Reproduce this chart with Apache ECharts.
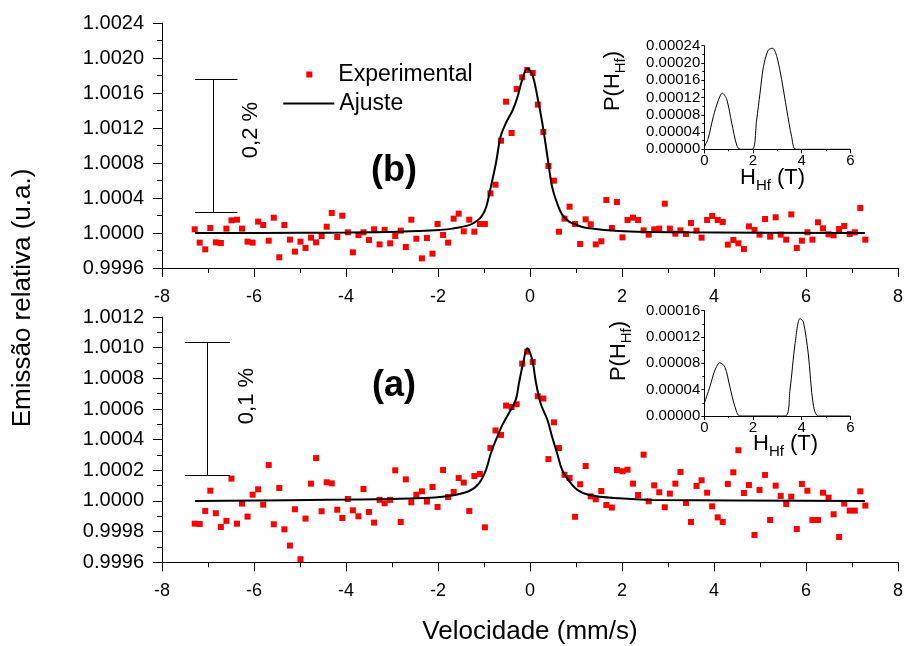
<!DOCTYPE html>
<html>
<head>
<meta charset="utf-8">
<script src="https://cdn.jsdelivr.net/npm/echarts/dist/echarts.min.js"></script>
<style>
  html, body { margin: 0; padding: 0; background: #ffffff; }
  #chart { width: 906px; height: 646px; }
</style>
</head>
<body>
<div id="chart"></div>
<script>
// Velocity channels (mm/s), shared by both spectra
const velocity = [
  -7.29, -7.18, -7.06, -6.95, -6.83, -6.72, -6.60, -6.49, -6.37, -6.26,
  -6.14, -6.03, -5.91, -5.80, -5.68, -5.57, -5.45, -5.34, -5.22, -5.11,
  -4.99, -4.88, -4.76, -4.65, -4.53, -4.42, -4.31, -4.19, -4.08, -3.96,
  -3.85, -3.73, -3.62, -3.50, -3.39, -3.27, -3.16, -3.04, -2.93, -2.81,
  -2.70, -2.58, -2.47, -2.35, -2.24, -2.12, -2.01, -1.89, -1.78, -1.66,
  -1.55, -1.44, -1.32, -1.21, -1.09, -0.98, -0.86, -0.75, -0.63, -0.52,
  -0.40, -0.29, -0.17, -0.06, 0.06, 0.17, 0.29, 0.40, 0.52, 0.63,
  0.75, 0.86, 0.98, 1.09, 1.21, 1.32, 1.43, 1.55, 1.66, 1.78,
  1.89, 2.01, 2.12, 2.24, 2.35, 2.47, 2.58, 2.70, 2.81, 2.93,
  3.04, 3.16, 3.27, 3.39, 3.50, 3.62, 3.73, 3.85, 3.96, 4.08,
  4.19, 4.30, 4.42, 4.53, 4.65, 4.76, 4.88, 4.99, 5.11, 5.22,
  5.34, 5.45, 5.57, 5.68, 5.80, 5.91, 6.03, 6.14, 6.26, 6.37,
  6.49, 6.60, 6.72, 6.83, 6.95, 7.06, 7.18, 7.29
];

// Spectrum (b): measured relative emission
const emissionB = [
  1.000042, 0.999890, 0.999813, 1.000057, 0.999893, 0.999886, 1.000050, 1.000145, 1.000152, 1.000050,
  0.999901, 0.999890, 1.000130, 1.000091, 0.999912, 1.000175, 0.999722, 1.000091, 0.999924, 0.999787,
  0.999901, 0.999829, 0.999947, 0.999893, 0.999966, 1.000072, 1.000229, 0.999954, 1.000198, 1.000008,
  0.999779, 0.999977, 1.000008, 0.999920, 1.000042, 0.999870, 1.000034, 0.999882, 0.999966, 1.000027,
  0.999840, 1.000152, 0.999935, 0.999710, 0.999943, 0.999764, 1.000103, 0.999977, 0.999890, 1.000164,
  1.000221, 1.000019, 1.000152, 1.000015, 1.000103, 1.000103, 1.000453, 1.000552, 1.001055, 1.001501,
  1.001143, 1.001646, 1.001779, 1.001863, 1.001829, 1.001467, 1.001154, 1.000766, 1.000598, 1.000015,
  1.000164, 1.000301, 1.000103, 0.999874, 1.000156, 1.000099, 0.999870, 0.999905, 1.000377, 1.000057,
  1.000354, 0.999950, 1.000149, 1.000175, 1.000149, 1.000030, 0.999981, 1.000042, 1.000050, 1.000335,
  1.000050, 0.999992, 1.000030, 0.999989, 1.000114, 1.000027, 0.999947, 1.000149, 1.000194, 1.000149,
  1.000126, 0.999867, 0.999920, 0.999882, 0.999817, 1.000076, 1.000034, 0.999981, 1.000160, 0.999958,
  1.000179, 0.999981, 0.999924, 1.000213, 0.999829, 0.999912, 1.000008, 0.999924, 1.000122, 1.000053,
  0.999985, 0.999973, 1.000046, 1.000080, 0.999989, 1.000008, 1.000286, 0.999924
];

// Spectrum (a): measured relative emission
const emissionA = [
  0.999852, 0.999850, 0.999935, 1.000067, 0.999920, 0.999830, 0.999870, 1.000146, 0.999852, 0.999983,
  0.999898, 1.000041, 1.000076, 0.999976, 1.000235, 0.999848, 1.000085, 0.999815, 0.999709, 0.999946,
  0.999620, 0.999885, 1.000113, 1.000280, 0.999933, 1.000122, 1.000115, 0.999943, 0.999889, 1.000013,
  0.999939, 0.999900, 1.000078, 0.999928, 0.999859, 1.000007, 0.999985, 1.000007, 1.000200, 0.999863,
  1.000141, 0.999991, 1.000041, 1.000063, 0.999996, 1.000091, 0.999961, 1.000202, 1.000026, 1.000059,
  1.000150, 1.000120, 0.999935, 1.000163, 1.000176, 0.999828, 1.000346, 1.000460, 1.000431, 1.000622,
  1.000613, 1.000631, 1.000896, 1.000974, 1.000907, 1.000683, 1.000668, 1.000273, 1.000513, 1.000345,
  1.000171, 1.000150, 0.999897, 1.000109, 1.000228, 1.000030, 1.000011, 1.000065, 0.999974, 0.999957,
  1.000202, 1.000194, 1.000204, 1.000113, 1.000039, 1.000302, 0.999998, 1.000102, 1.000057, 0.999959,
  1.000048, 1.000113, 1.000189, 0.999987, 0.999863, 1.000098, 1.000135, 1.000054, 0.999965, 0.999893,
  0.999863, 1.000111, 1.000187, 1.000331, 1.000052, 1.000104, 0.999778, 1.000072, 1.000170, 0.999876,
  1.000100, 1.000033, 0.999980, 1.000028, 0.999817, 1.000111, 1.000067, 0.999876, 0.999876, 1.000054,
  1.000022, 0.999913, 0.999765, 0.999983, 0.999937, 0.999937, 1.000063, 0.999970
];

// Fitted curves ("Ajuste")
const fitBVelocity = [-7.28, -5.01, -3.92, -2.84, -2.41, -1.97, -1.69, -1.32, -1.15, -1.04, -0.95, -0.85,
  -0.74, -0.64, -0.53, -0.38, -0.28, -0.17, -0.06, 0.05, 0.16, 0.27, 0.38, 0.48, 0.59, 0.70, 0.85, 1.00,
  1.21, 1.93, 3.38, 7.28];
const fitBValue = [1.000000, 1.000002, 1.000005, 1.000015, 1.000022, 1.000035, 1.000050, 1.000090,
  1.000140, 1.000200, 1.000300, 1.000530, 1.000800, 1.001100, 1.001250, 1.001400, 1.001540, 1.001750,
  1.001880, 1.001810, 1.001560, 1.001250, 1.000870, 1.000530, 1.000340, 1.000210, 1.000130, 1.000095,
  1.000060, 1.000023, 1.000008, 1.000000];

const fitAVelocity = [-7.28, -3.92, -2.48, -1.76, -1.32, -1.11, -0.96, -0.85, -0.74, -0.60, -0.46, -0.31,
  -0.24, -0.15, -0.06, 0.05, 0.12, 0.23, 0.38, 0.48, 0.59, 0.70, 0.85, 1.03, 1.28, 1.93, 2.65, 7.28];
const fitAValue = [1.000000, 1.000009, 1.000017, 1.000033, 1.000065, 1.000115, 1.000200, 1.000311,
  1.000398, 1.000496, 1.000572, 1.000659, 1.000768, 1.000898, 1.000996, 1.000920, 1.000789, 1.000637,
  1.000528, 1.000419, 1.000311, 1.000202, 1.000130, 1.000072, 1.000039, 1.000017, 1.000007, 1.000000];

// Hyperfine field distributions P(H_Hf)
const hfB = [0, 0.16, 0.37, 0.58, 0.74, 0.92, 1.13, 1.33, 1.47, 1.97, 2.15, 2.29, 2.43, 2.63, 2.81, 2.98,
  3.18, 3.39, 3.59, 3.77, 6.0];
const probB = [0.000005, 0.0000255, 0.0000755, 0.000114, 0.000130, 0.000116, 0.0000602, 0.000010, 0, 0,
  0.0000679, 0.000130, 0.000191, 0.000230, 0.000234, 0.000215, 0.000161, 0.000091, 0.0000292, 0, 0];

const hfA = [0, 0.23, 0.44, 0.64, 0.85, 1.05, 1.26, 1.47, 3.32, 3.52, 3.73, 3.93, 4.07, 4.27, 4.48, 4.69, 6.0];
const probA = [0.0000193, 0.0000445, 0.0000699, 0.000081, 0.000074, 0.0000445, 0.0000141, 0, 0,
  0.0000395, 0.000110, 0.000148, 0.000143, 0.0000953, 0.0000167, 0, 0];

// Scale bars: [velocity of the bar, low end, high end, cap start, cap end]
const scaleBarB = [-6.89, 1.000237, 1.001760, -7.28, -6.36];
const scaleBarA = [-7.02, 1.000165, 1.001035, -7.50, -6.52];

const FONT = '"Liberation Sans", Arial, Helvetica, sans-serif';
const BLACK = '#000000';
const RED = '#ff0000';

const zip = (xs, ys) => xs.map((x, i) => [x, ys[i]]);

function scaleBar(b) {
  return {
    silent: true,
    symbol: 'none',
    label: { show: false },
    lineStyle: { type: 'solid', color: BLACK, width: 1, opacity: 1 },
    emphasis: { disabled: true },
    data: [
      [{ coord: [b[0], b[1]] }, { coord: [b[0], b[2]] }],
      [{ coord: [b[3], b[2]] }, { coord: [b[4], b[2]] }],
      [{ coord: [b[3], b[1]] }, { coord: [b[4], b[1]] }]
    ]
  };
}

function mainX(gridIndex) {
  return {
    type: 'value', gridIndex, min: -8, max: 8, interval: 2,
    axisLine: { show: true, onZero: false, lineStyle: { color: BLACK, width: 1 } },
    axisTick: { show: true, length: 9, lineStyle: { color: BLACK, width: 1 } },
    minorTick: { show: true, splitNumber: 2, length: 5, lineStyle: { color: BLACK, width: 1 } },
    axisLabel: { color: BLACK, fontSize: 18, fontFamily: FONT, margin: 20, showMinLabel: true, showMaxLabel: true },
    splitLine: { show: false }, minorSplitLine: { show: false }
  };
}

function mainY(gridIndex, min, max, interval) {
  return {
    type: 'value', gridIndex, min, max, interval,
    axisLine: { show: true, onZero: false, lineStyle: { color: BLACK, width: 1 } },
    axisTick: { show: true, length: 9, lineStyle: { color: BLACK, width: 1 } },
    minorTick: { show: true, splitNumber: 2, length: 5, lineStyle: { color: BLACK, width: 1 } },
    axisLabel: { color: BLACK, fontSize: 20, fontFamily: FONT, margin: 18, showMinLabel: true, showMaxLabel: true,
      formatter: v => v.toFixed(4) },
    splitLine: { show: false }, minorSplitLine: { show: false }
  };
}

function insetX(gridIndex) {
  return {
    type: 'value', gridIndex, min: 0, max: 6, interval: 2,
    axisLine: { show: true, onZero: false, lineStyle: { color: BLACK, width: 1 } },
    axisTick: { show: true, length: 4, lineStyle: { color: BLACK, width: 1 } },
    minorTick: { show: true, splitNumber: 2, length: 2, lineStyle: { color: BLACK, width: 1 } },
    axisLabel: { color: BLACK, fontSize: 15, fontFamily: FONT, margin: 4, showMinLabel: true, showMaxLabel: true },
    splitLine: { show: false }, minorSplitLine: { show: false }
  };
}

function insetY(gridIndex, max) {
  return {
    type: 'value', gridIndex, min: 0, max, interval: 0.00004,
    axisLine: { show: true, onZero: false, lineStyle: { color: BLACK, width: 1 } },
    axisTick: { show: true, length: 3, lineStyle: { color: BLACK, width: 1 } },
    minorTick: { show: true, splitNumber: 2, length: 2, lineStyle: { color: BLACK, width: 1 } },
    axisLabel: { color: BLACK, fontSize: 15, fontFamily: FONT, margin: 4, showMinLabel: true, showMaxLabel: true,
      formatter: v => v.toFixed(5) },
    splitLine: { show: false }, minorSplitLine: { show: false }
  };
}

function text(x, y, str, size, rotation, weight) {
  return {
    type: 'text', x, y, rotation: rotation || 0, silent: true,
    style: {
      text: str, fill: BLACK, fontSize: size, fontFamily: FONT, fontWeight: weight || 'normal',
      textAlign: 'center', textVerticalAlign: 'middle'
    }
  };
}

// Text with a subscript part, e.g. H_Hf
function subText(x, y, main, sub, tail, align, rotation) {
  return {
    type: 'text', x, y, rotation: rotation || 0, silent: true,
    style: {
      text: '{m|' + main + '}{s|' + sub + '}{m|' + tail + '}',
      fill: BLACK,
      fontFamily: FONT,
      fontSize: 22,
      textAlign: align,
      textVerticalAlign: 'middle',
      rich: {
        m: { fontSize: 22, fontFamily: FONT, fill: BLACK },
        s: { fontSize: 15, fontFamily: FONT, fill: BLACK, padding: [15, 0, 0, 0] }
      }
    }
  };
}

const chart = echarts.init(document.getElementById('chart'), null, { renderer: 'canvas' });

chart.setOption({
  animation: false,
  backgroundColor: '#ffffff',
  textStyle: { fontFamily: FONT },
  grid: [
    { left: 162, width: 738, top: 23, height: 245, containLabel: false },
    { left: 162, width: 738, top: 317, height: 245.3, containLabel: false },
    { left: 704.3, width: 146, top: 45.7, height: 103.6, containLabel: false },
    { left: 704.3, width: 146, top: 310.7, height: 105.3, containLabel: false }
  ],
  xAxis: [mainX(0), mainX(1), insetX(2), insetX(3)],
  yAxis: [
    mainY(0, 0.9996, 1.0024, 0.0004),
    mainY(1, 0.9996, 1.0012, 0.0002),
    insetY(2, 0.00024),
    insetY(3, 0.00016)
  ],
  legend: [
    {
      data: [{ name: 'Experimental', icon: 'rect' }], left: 301.3, top: 58, orient: 'vertical',
      itemWidth: 6, itemHeight: 6, selectedMode: false,
      textStyle: { color: BLACK, fontSize: 23, fontFamily: FONT, padding: [0, 0, 0, 21] }
    },
    {
      data: [{ name: 'Ajuste', icon: 'rect' }], left: 278.3, top: 87, orient: 'vertical',
      itemWidth: 51, itemHeight: 2, selectedMode: false,
      textStyle: { color: BLACK, fontSize: 23, fontFamily: FONT }
    }
  ],
  series: [
    {
      name: 'Experimental', type: 'scatter', xAxisIndex: 0, yAxisIndex: 0,
      symbol: 'rect', symbolSize: 6, itemStyle: { color: RED, opacity: 1 },
      data: zip(velocity, emissionB), markLine: scaleBar(scaleBarB), z: 2
    },
    {
      name: 'Ajuste', type: 'line', xAxisIndex: 0, yAxisIndex: 0,
      showSymbol: false, symbol: 'none', smooth: 0.35,
      lineStyle: { color: BLACK, width: 2 }, itemStyle: { color: BLACK },
      data: zip(fitBVelocity, fitBValue), z: 3
    },
    {
      name: 'Experimental', type: 'scatter', xAxisIndex: 1, yAxisIndex: 1,
      symbol: 'rect', symbolSize: 6, itemStyle: { color: RED, opacity: 1 },
      data: zip(velocity, emissionA), markLine: scaleBar(scaleBarA), z: 2
    },
    {
      name: 'Ajuste', type: 'line', xAxisIndex: 1, yAxisIndex: 1,
      showSymbol: false, symbol: 'none', smooth: 0.35,
      lineStyle: { color: BLACK, width: 2 }, itemStyle: { color: BLACK },
      data: zip(fitAVelocity, fitAValue), z: 3
    },
    {
      name: 'P(H) b', type: 'line', xAxisIndex: 2, yAxisIndex: 2,
      showSymbol: false, symbol: 'none', smooth: 0.3,
      lineStyle: { color: BLACK, width: 1 },
      data: zip(hfB, probB)
    },
    {
      name: 'P(H) a', type: 'line', xAxisIndex: 3, yAxisIndex: 3,
      showSymbol: false, symbol: 'none', smooth: 0.3,
      lineStyle: { color: BLACK, width: 1 },
      data: zip(hfA, probA)
    }
  ],
  graphic: {
    elements: [
      text(23, 298, 'Emissão relativa (u.a.)', 26, Math.PI / 2),
      text(530, 632, 'Velocidade (mm/s)', 26),
      text(394, 171, '(b)', 36, 0, 'bold'),
      text(394, 386, '(a)', 36, 0, 'bold'),
      text(251, 130, '0,2 %', 22, Math.PI / 2),
      text(247, 396, '0,1 %', 22, Math.PI / 2),
      subText(613, 81, 'P(H', 'Hf', ')', 'center', Math.PI / 2),
      subText(619, 351, 'P(H', 'Hf', ')', 'center', Math.PI / 2),
      subText(740, 178, 'H', 'Hf', ' (T)', 'left', 0),
      subText(753, 444, 'H', 'Hf', ' (T)', 'left', 0)
    ]
  }
});
</script>
</body>
</html>
